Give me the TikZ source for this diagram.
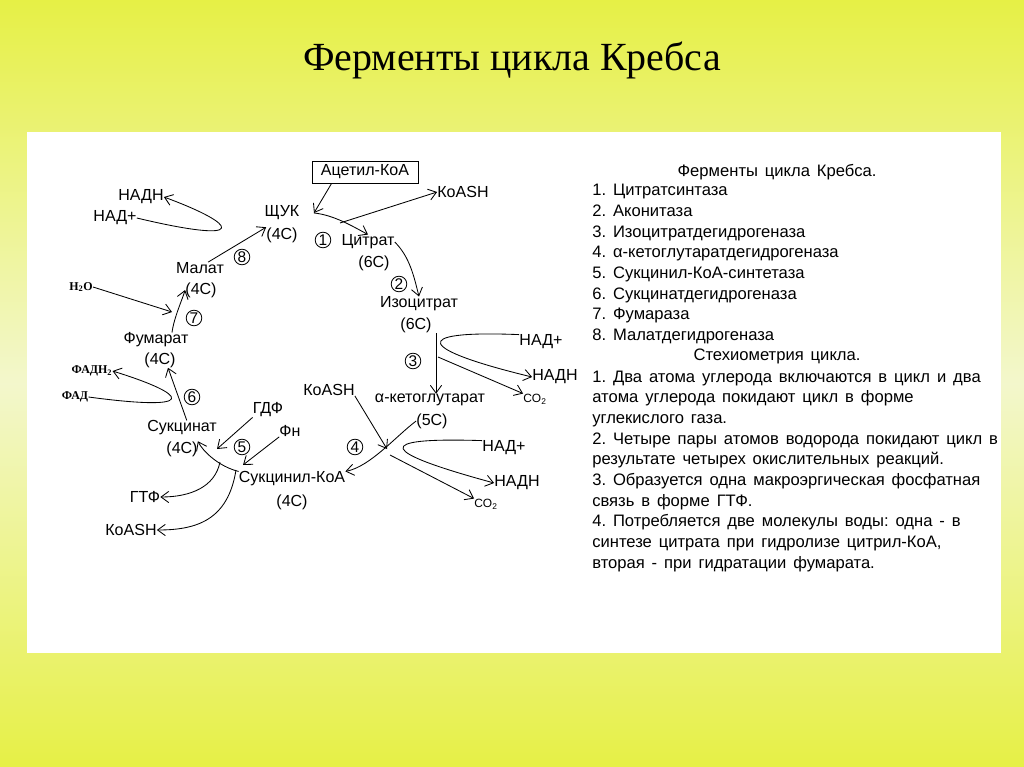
\documentclass[tikz,border=0pt]{standalone}
\usepackage{fontspec}
\setmainfont{Liberation Serif}
\newfontfamily\labelfont{Liberation Sans}
\newfontfamily\listfont[WordSpace=1.5]{Liberation Sans}
\usetikzlibrary{arrows.meta,positioning}
\definecolor{bgtop}{HTML}{E6F046}
\definecolor{bgmid}{HTML}{F3F7CC}

\begin{document}
\frenchspacing
\begin{tikzpicture}[x=0.025cm, y=-0.025cm, >={Straight Barb[length=5.5pt,width=8pt]},
  lbl/.style={font=\labelfont\fontsize{11.4}{13}\selectfont, inner sep=0pt},
  chem/.style={font=\bfseries\fontsize{8.5}{10}\selectfont, inner sep=0pt},
  gas/.style={font=\labelfont\fontsize{8.5}{9}\selectfont, inner sep=0pt},
  enz/.style={draw, circle, minimum size=0.39cm, inner sep=0pt, line width=0.6pt, font=\labelfont\fontsize{11}{11}\selectfont},
  rx/.style={->, line width=0.6pt},
  txt/.style={font=\listfont\fontsize{11.8}{13}\selectfont, inner sep=0pt}]
\useasboundingbox (0,0) rectangle (1024,767);
\shade[top color=bgtop, bottom color=bgtop, middle color=bgmid] (0,0) rectangle (1024,767);
\fill[white] (27,132) rectangle (1001,653);
\node[font=\fontsize{28.4}{32}\selectfont] (title) at (512,60) {Ферменты цикла Кребса};

% metabolites of the cycle
\node[lbl, draw, line width=0.6pt, minimum width=2.65cm, minimum height=0.55cm] (acetyl) at (365,172) {Ацетил-КоА};
\node[lbl] (oaa) at (282,213) {ЩУК};
\node[lbl] (oaa4) at (282,235) {(4С)};
\node[lbl] (cit) at (368,242) {Цитрат};
\node[lbl] (cit6) at (374,263) {(6С)};
\node[lbl] (iso) at (419,304) {Изоцитрат};
\node[lbl] (iso6) at (416,325) {(6С)};
\node[lbl] (akg) at (430,400) {α-кетоглутарат};
\node[lbl] (akg5) at (432,421) {(5С)};
\node[lbl] (scoa) at (292,479) {Сукцинил-КоА};
\node[lbl] (scoa4) at (292,502) {(4С)};
\node[lbl] (succ) at (182,428) {Сукцинат};
\node[lbl] (succ4) at (182,449) {(4С)};
\node[lbl] (fum) at (156,340) {Фумарат};
\node[lbl] (fum4) at (160,360) {(4С)};
\node[lbl] (mal) at (200,268) {Малат};
\node[lbl] (mal4) at (201,290) {(4С)};

% cofactors
\node[lbl] (koash1) at (463,192) {КоASH};
\node[lbl] (nadh1) at (141,197) {НАДН};
\node[lbl] (nadp1) at (115,218) {НАД+};
\node[lbl] (nadp2) at (541,342) {НАД+};
\node[lbl] (nadh2) at (555,377) {НАДН};
\node[gas] (co2a) at (535,399) {CO\textsubscript{2}};
\node[lbl] (koash2) at (329,390) {КоASH};
\node[lbl] (nadp3) at (504,448) {НАД+};
\node[lbl] (nadh3) at (517,483) {НАДН};
\node[gas] (co2b) at (486,504) {CO\textsubscript{2}};
\node[lbl] (gdp) at (268,410) {ГДФ};
\node[lbl] (pi) at (290,431) {Фн};
\node[lbl] (gtp) at (145,497) {ГТФ};
\node[lbl] (koash3) at (131,530) {КоASH};
\node[chem] (fadh2) at (92,371) {ФАДН\textsubscript{2}};
\node[chem] (fad) at (75,397) {ФАД};
\node[chem] (h2o) at (81,287) {H\textsubscript{2}O};

% enzyme numbers
\node[enz] (e1) at (323,240) {1};
\node[enz] (e2) at (399,284) {2};
\node[enz] (e3) at (413,361) {3};
\node[enz] (e4) at (355,447) {4};
\node[enz] (e5) at (242,447) {5};
\node[enz] (e6) at (192,397) {6};
\node[enz] (e7) at (194,318) {7};
\node[enz] (e8) at (242,257) {8};

% junctions on the reaction arrows
\coordinate (j1) at (314,213);
\coordinate (j1b) at (340,223);
\coordinate (j3) at (436,333);
\coordinate (j3b) at (438,357);
\coordinate (j4) at (387,449);
\coordinate (j4b) at (390,455);
\coordinate (j5a) at (217,449);
\coordinate (j5b) at (243,465);
\coordinate (j5c) at (220,462);
\coordinate (j5d) at (236,470);
\coordinate (j7) at (172,312);

% 1
\draw[rx] ([xshift=0.5cm]acetyl.south west) -- (j1);
\draw[rx] (j1) .. controls +(20,2) and +(-15,-8) .. (cit.north);
\draw[rx] (j1b) -- (koash1.west);
% 2
\draw[rx] (cit.east) .. controls +(15,15) and +(-5,-20) .. (iso.north);
% 3
\draw[rx] (j3) -- (j3 |- akg.north);
\draw[rx] (nadp2.north west) .. controls (405,330) and (420,350) .. (nadh2.west);
\draw[rx] (j3b) -- (co2a.north west);
% 4
\draw[rx] (akg5.west) .. controls +(-20,15) and +(25,-5) .. (scoa.north east);
\draw[rx] (koash2.south east) -- (j4);
\draw[rx] (nadp3.north west) .. controls (370,437) and (380,452) .. (nadh3.west);
\draw[rx] (j4b) -- (co2b.north west);
% 5
\draw[rx] (scoa.north west) .. controls +(-20,-5) and +(5,10) .. (succ4.north east);
\draw[rx] (gdp.south west) -- (j5a);
\draw[rx] (pi.south west) -- (j5b);
\draw[rx] (j5c) .. controls +(-5,25) and +(30,0) .. (gtp.east);
\draw[rx] (j5d) .. controls +(-8,50) and +(40,0) .. (koash3.east);
% 6
\draw[rx] ([xshift=0.12cm]succ.north) -- ([xshift=0.2cm]fum4.south);
\draw[rx] (fad.east) .. controls (200,412) and (190,395) .. (fadh2.east);
% 7
\draw[rx] (h2o.east) -- (j7);
\draw[rx] ([xshift=0.4cm]fum.north) .. controls +(2,-15) and +(-3,10) .. (mal4.west);
% 8
\draw[rx] ([xshift=-0.4cm]mal.north east) -- (oaa4.north west);
\draw[rx] (nadp1.east) .. controls (250,245) and (240,225) .. (nadh1.east);

% enzyme list and stoichiometry
\node[txt] (head1) at (777,172) {Ферменты цикла Кребса.};
\foreach \t [count=\i from 0] in {1. Цитратсинтаза, 2. Аконитаза, 3. Изоцитратдегидрогеназа,
  4. α-кетоглутаратдегидрогеназа, 5. Сукцинил-КоА-синтетаза, 6. Сукцинатдегидрогеназа,
  7. Фумараза, 8. Малатдегидрогеназа}
  \node[txt, anchor=base west] at (592,196+20.65*\i) {\t};
\node[txt] (head2) at (777,356) {Стехиометрия цикла.};
\foreach \t [count=\i from 0] in {1. Два атома углерода включаются в цикл и два,
  атома углерода покидают цикл в форме, углекислого газа.,
  2. Четыре пары атомов водорода покидают цикл в, результате четырех окислительных реакций.,
  3. Образуется одна макроэргическая фосфатная, связь в форме ГТФ.,
  4. Потребляется две молекулы воды: одна - в, {синтезе цитрата при гидролизе цитрил-КоА,},
  вторая - при гидратации фумарата.}
  \node[txt, anchor=base west] at (592,382+20.7*\i) {\t};
\end{tikzpicture}
\end{document}
